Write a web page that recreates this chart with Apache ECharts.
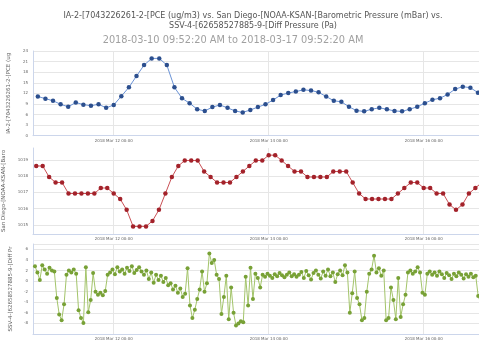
<!DOCTYPE html>
<html>
<head>
<meta charset="utf-8">
<script src="https://cdn.jsdelivr.net/npm/echarts@6/dist/echarts.min.js"></script>
<style>
  html, body { margin: 0; padding: 0; background: #fff; }
  #chart { width: 479px; height: 341px; }
</style>
</head>
<body>
<div id="chart"></div>
<script>
// Three stacked panels sharing one time range.
const titleText = 'IA-2-[7043226261-2-[PCE (ug/m3) vs. San Diego-[NOAA-KSAN-[Barometric Pressure (mBar) vs.\nSSV-4-[62658527885-9-[Diff Pressure (Pa)';
const subtitleText = '2018-03-10 09:52:20 AM to 2018-03-17 09:52:20 AM';

const axisNames = [
  'IA-2-[7043226261-2-[PCE (ug/m3)',
  'San Diego-[NOAA-KSAN-[Barometric Pressure (mBar)',
  'SSV-4-[62658527885-9-[Diff Pressure (Pa)'
];

const xRange = ['2018-03-10 23:00', '2018-03-17 09:52:20'];
const xTickDates = ['2018-03-12 00:00', '2018-03-14 00:00', '2018-03-16 00:00'];
const monthNames = ['Jan','Feb','Mar','Apr','May','Jun','Jul','Aug','Sep','Oct','Nov','Dec'];

// PCE (ug/m3)
const pceStart = '2018-03-11 00:30';
const pceStepMinutes = 141;
const pceValues = [11.1,10.5,9.9,8.9,8.2,9.4,8.8,8.5,8.9,7.9,8.7,11.2,13.7,16.9,20.0,21.9,21.9,20.0,13.7,10.6,
  9.2,7.5,7.0,8.1,8.7,7.9,7.0,6.6,7.3,8.1,8.9,10.1,11.5,12.1,12.5,13.0,12.8,12.3,11.1,9.9,
  9.6,8.2,7.1,6.9,7.5,7.9,7.5,7.0,6.9,7.5,8.2,9.2,10.2,10.6,11.7,13.2,13.9,13.6,12.2];
const pceTicks = [0, 24, 3];

// Barometric pressure (mBar)
const baroStart = '2018-03-11 00:00';
const baroStepMinutes = 120;
const baroValues = [1018.63,1018.63,1017.95,1017.61,1017.61,1016.93,1016.93,1016.93,1016.93,1016.93,
  1017.27,1017.27,1016.93,1016.59,1015.92,1014.90,1014.90,1014.90,1015.24,1015.92,
  1016.93,1017.95,1018.63,1018.97,1018.97,1018.97,1018.29,1017.95,1017.61,1017.61,
  1017.61,1017.95,1018.29,1018.63,1018.97,1018.97,1019.30,1019.30,1018.97,1018.63,
  1018.29,1018.29,1017.95,1017.95,1017.95,1017.95,1018.29,1018.29,1018.29,1017.61,
  1016.93,1016.59,1016.59,1016.59,1016.59,1016.59,1016.93,1017.27,1017.61,1017.61,
  1017.27,1017.27,1016.93,1016.93,1016.25,1015.92,1016.25,1016.93,1017.27,1017.61];
const baroRange = [1014.43, 1019.74];
const baroTicks = [1015, 1016, 1017, 1018, 1019];

// Differential pressure (Pa)
const diffStart = '2018-03-10 23:37';
const diffStepMinutes = 45;
const diffValues = [2.8,1.6,0.2,3.0,2.2,1.4,2.5,2.0,1.8,-3.2,
  -6.3,-7.4,-4.4,1.2,2.0,1.6,2.2,1.4,-5.5,-7.0,
  -7.9,2.6,-5.9,-3.6,1.5,-2.0,-2.6,-2.2,-2.7,-1.9,
  1.2,1.6,2.2,1.3,2.6,1.8,2.2,1.4,2.5,1.9,
  2.8,1.5,2.1,2.6,1.8,1.2,2.0,0.4,1.6,-0.3,
  1.2,0.2,1.0,-0.2,0.6,-0.8,-0.4,-1.6,-0.9,-2.2,
  -1.4,-3.0,-2.4,2.4,-4.6,-7.0,-5.4,-3.4,-1.6,1.8,
  -2.0,-0.4,5.2,3.4,4.0,1.2,0.4,-6.2,-3.0,1.0,
  -7.2,-1.2,-6.0,-8.4,-8.0,-7.6,-7.8,0.8,-4.6,2.5,
  -3.4,1.4,0.6,-1.2,1.2,0.8,1.4,1.0,0.6,1.3,
  0.9,1.5,1.1,0.7,1.2,1.6,0.9,1.3,0.8,1.2,
  1.7,0.6,1.9,1.1,0.3,1.5,2.0,1.2,0.5,1.8,
  1.0,2.2,0.9,1.6,-0.2,1.3,2.0,1.1,3.0,1.6,
  -6.0,-2.3,1.8,-3.2,-4.4,-7.4,-7.0,-2.0,1.4,2.2,
  4.8,1.6,2.4,1.0,2.0,-7.4,-7.0,-1.2,-3.6,-7.2,
  0.6,-6.8,-4.4,-2.6,1.6,2.0,1.4,1.8,2.6,1.6,
  -2.2,-2.6,1.4,1.8,1.2,1.6,1.0,1.8,1.3,0.6,
  1.5,1.1,0.4,1.4,0.9,1.6,1.2,0.5,1.3,0.8,
  1.4,0.7,1.0,-2.8,-3.2];
const diffTicks = [-10, 7, 2];

function toTime(s) {
  const [d, t] = s.split(' ');
  const [y, m, day] = d.split('-').map(Number);
  const [hh, mm, ss] = (t + ':0').split(':').map(Number);
  return new Date(y, m - 1, day, hh, mm, ss || 0).getTime();
}
function series(start, stepMin, values) {
  const t0 = toTime(start);
  return values.map((v, i) => [t0 + i * stepMin * 60000, v]);
}
function pad(n) { return (n < 10 ? '0' : '') + n; }
function fmtTime(v) {
  const d = new Date(v);
  return d.getFullYear() + ' ' + monthNames[d.getMonth()] + ' ' + pad(d.getDate()) + ' ' +
    pad(d.getHours()) + ':' + pad(d.getMinutes());
}

const xMin = toTime(xRange[0]);
const xMax = toTime(xRange[1]);
const xTicks = xTickDates.map(toTime);
const pxPerHour = 3.229;
const plotLeft = 33;
const plotWidth = (xMax - xMin) / 3600000 * pxPerHour;

const gridColor = '#e6e6e6';
const axisLineColor = '#ccd6eb';
const labelColor = '#666';
const font = 'DejaVu Sans';

const panels = [
  { top: 51, height: 84.7 },
  { top: 148, height: 86 },
  { top: 244, height: 90 }
];

// The plot runs past the right edge of the canvas, so no outer-bounds fitting.
const grids = panels.map(p => ({
  left: plotLeft, top: p.top, width: plotWidth, height: p.height,
  containLabel: false, outerBoundsMode: 'none'
}));

// Millisecond timestamps on a value scale, labelled as dates.
const xAxes = panels.map((p, i) => ({
  type: 'value', gridIndex: i, min: xMin, max: xMax, scale: true,
  axisLine: { show: true, onZero: false, lineStyle: { color: axisLineColor, width: 1 } },
  axisTick: { show: false, customValues: xTicks },
  splitLine: { show: true, lineStyle: { color: gridColor, width: 1 } },
  axisLabel: { customValues: xTicks, formatter: fmtTime, fontSize: 4, color: labelColor, margin: 3, fontFamily: font }
}));

const yName = (i) => ({
  name: axisNames[i], nameLocation: 'middle', nameRotate: 90, nameGap: 14,
  nameTextStyle: { fontSize: 5.5, color: '#666', fontFamily: font },
  nameTruncate: { maxWidth: 86, ellipsis: '' }
});
const plainNumber = (v) => String(v);
const yLabel = { fontSize: 4, color: labelColor, margin: 5, fontFamily: font, formatter: plainNumber };
const yLine = { show: true, onZero: false, lineStyle: { color: axisLineColor, width: 1 } };
const ySplit = { show: true, lineStyle: { color: gridColor, width: 1 } };

const yAxes = [
  Object.assign({ type: 'value', gridIndex: 0, min: pceTicks[0], max: pceTicks[1], interval: pceTicks[2],
    axisLine: yLine, axisTick: { show: false }, splitLine: ySplit, axisLabel: yLabel }, yName(0)),
  Object.assign({ type: 'value', gridIndex: 1, min: baroRange[0], max: baroRange[1], scale: true,
    axisLine: yLine, axisTick: { show: false, customValues: baroTicks }, splitLine: ySplit,
    axisLabel: Object.assign({ customValues: baroTicks }, yLabel) }, yName(1)),
  Object.assign({ type: 'value', gridIndex: 2, min: diffTicks[0], max: diffTicks[1], interval: diffTicks[2],
    axisLine: yLine, axisTick: { show: false }, splitLine: ySplit,
    axisLabel: Object.assign({ showMinLabel: false, showMaxLabel: false }, yLabel) }, yName(2))
];

function lineSeries(i, data, dot, line, size) {
  return {
    type: 'line', xAxisIndex: i, yAxisIndex: i, data: data,
    symbol: 'circle', symbolSize: size, showSymbol: true,
    itemStyle: { color: dot }, lineStyle: { color: line, width: 1 },
    animation: false, silent: true
  };
}

const chart = echarts.init(document.getElementById('chart'), null, { renderer: 'canvas' });
chart.setOption({
  backgroundColor: '#fff',
  animation: false,
  title: [
    { text: titleText, left: 248, top: 6, textAlign: 'center',
      textStyle: { fontSize: 8, fontWeight: 'normal', color: '#555', fontFamily: font, lineHeight: 10 } },
    { text: subtitleText, left: 228, top: 30, textAlign: 'center',
      textStyle: { fontSize: 9.8, fontWeight: 'normal', color: '#a0a0a0', fontFamily: font } }
  ],
  grid: grids,
  xAxis: xAxes,
  yAxis: yAxes,
  series: [
    lineSeries(0, series(pceStart, pceStepMinutes, pceValues), '#2c4f8e', '#6b93d6', 4.5),
    lineSeries(1, series(baroStart, baroStepMinutes, baroValues), '#a3222a', '#c95055', 4.5),
    lineSeries(2, series(diffStart, diffStepMinutes, diffValues), '#78a136', '#a3c46a', 4)
  ]
});
</script>
</body>
</html>
